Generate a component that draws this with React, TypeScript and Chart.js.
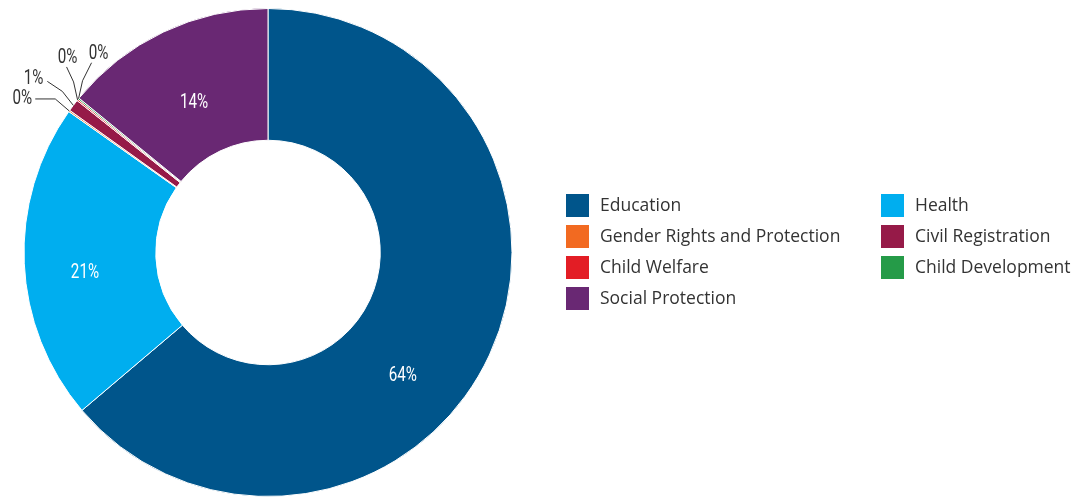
import React, { useEffect, useRef } from "react";
import { Chart, registerables } from "chart.js";
Chart.register(...registerables);

const categories = [
  "Education",
  "Health",
  "Gender Rights and Protection",
  "Civil Registration",
  "Child Welfare",
  "Child Development",
  "Social Protection",
];
const shares = [63.8, 21.0, 0.1, 0.8, 0.1, 0.1, 14.1];
const colors = ["#00558B", "#00AEEF", "#F26A21", "#961A48", "#E31D25", "#259B48", "#692873"];

// label styling: angle shift (radians) and radius shift (px) for inside labels
const insideShift = [0.31, -0.065, 0, 0, 0, 0, -0.015];
const insideRadiusShift = [5, 6, 0, 0, 0, 0, -11];
// leader offsets for small slices: [elbowDx, elbowDy, endDx, endDy, textDx, textDy, align]
const leaderOffsets: Record<number, [number, number, number, number, number, number, CanvasTextAlign]> = {
  2: [-14, -12, -34, -12, -3, 0, "right"],
  3: [-11, -14, -26, -24, -4, -2, "right"],
  4: [-4, -18, -11, -33, 1, -9, "center"],
  5: [4, -18, 13, -36, 7, -9, "center"],
};

const LABEL_FONT = '20px Roboto, "DejaVu Sans", sans-serif';
const LABEL_SQUEEZE = 0.76;
const LEGEND_FONT = '17.5px "Open Sans", "Liberation Sans", Arial, sans-serif';

function squeezedText(ctx: CanvasRenderingContext2D, text: string, x: number, y: number, align: CanvasTextAlign) {
  ctx.save();
  ctx.translate(x, y);
  ctx.scale(LABEL_SQUEEZE, 1);
  ctx.textAlign = align;
  ctx.textBaseline = "middle";
  ctx.fillText(text, 0, 0);
  ctx.restore();
}

const labelPlugin = {
  id: "sliceLabels",
  afterDatasetsDraw(chart: any) {
    const ctx = chart.ctx as CanvasRenderingContext2D;
    const meta = chart.getDatasetMeta(0);
    const data = chart.data.datasets[0].data as number[];
    const total = data.reduce((a, b) => a + b, 0);
    ctx.save();
    ctx.font = LABEL_FONT;
    meta.data.forEach((arc: any, i: number) => {
      const p = arc.getProps(["x", "y", "startAngle", "endAngle", "innerRadius", "outerRadius"], true);
      const pct = Math.round((data[i] / total) * 100) + "%";
      const mid = (p.startAngle + p.endAngle) / 2;
      const off = leaderOffsets[i];
      if (!off) {
        const a = mid + insideShift[i];
        const r = (p.innerRadius + p.outerRadius) / 2 + insideRadiusShift[i];
        ctx.fillStyle = "#ffffff";
        squeezedText(ctx, pct, p.x + Math.cos(a) * r, p.y + Math.sin(a) * r, "center");
      } else {
        const ax = p.x + Math.cos(mid) * p.outerRadius;
        const ay = p.y + Math.sin(mid) * p.outerRadius;
        const ex = ax + off[0], ey = ay + off[1];
        const tx = ax + off[2], ty = ay + off[3];
        ctx.strokeStyle = "#333333";
        ctx.lineWidth = 1;
        ctx.beginPath();
        ctx.moveTo(ax, ay);
        ctx.lineTo(ex, ey);
        ctx.lineTo(tx, ty);
        ctx.stroke();
        ctx.fillStyle = "#333333";
        squeezedText(ctx, pct, tx + off[4], ty + off[5], off[6]);
      }
    });
    ctx.restore();
  },
};

const legendPlugin = {
  id: "gridLegend",
  afterDraw(chart: any) {
    const ctx = chart.ctx as CanvasRenderingContext2D;
    const labels = chart.data.labels as string[];
    const bg = chart.data.datasets[0].backgroundColor as string[];
    const colX = [566, 881];
    const top = 194;
    const rowH = 31;
    const box = 23;
    ctx.save();
    ctx.font = LEGEND_FONT;
    ctx.textAlign = "left";
    ctx.textBaseline = "middle";
    labels.forEach((lab, i) => {
      const col = i % 2;
      const row = Math.floor(i / 2);
      const x = colX[col];
      const y = top + row * rowH;
      ctx.fillStyle = bg[i];
      ctx.fillRect(x, y, box, box);
      ctx.fillStyle = "#333333";
      ctx.fillText(lab, x + 34, y + box / 2 + 1);
    });
    ctx.restore();
  },
};

export default function App() {
  const ref = useRef<HTMLCanvasElement | null>(null);
  useEffect(() => {
    document.body.style.margin = "0";
    const chart = new Chart(ref.current as HTMLCanvasElement, {
      type: "doughnut",
      data: {
        labels: categories,
        datasets: [
          {
            data: shares,
            backgroundColor: colors,
            borderColor: "#ffffff",
            borderWidth: 1,
          },
        ],
      },
      options: {
        animation: false,
        responsive: true,
        maintainAspectRatio: false,
        cutout: "46%",
        layout: { padding: { left: 23, right: 567, top: 8, bottom: 3 } },
        plugins: {
          legend: { display: false },
          tooltip: { enabled: false },
        },
      },
      plugins: [labelPlugin, legendPlugin],
    });
    return () => chart.destroy();
  }, []);
  return (
    <div style={{ width: 1080, height: 500, position: "relative" }}>
      <canvas ref={ref} />
    </div>
  );
}
